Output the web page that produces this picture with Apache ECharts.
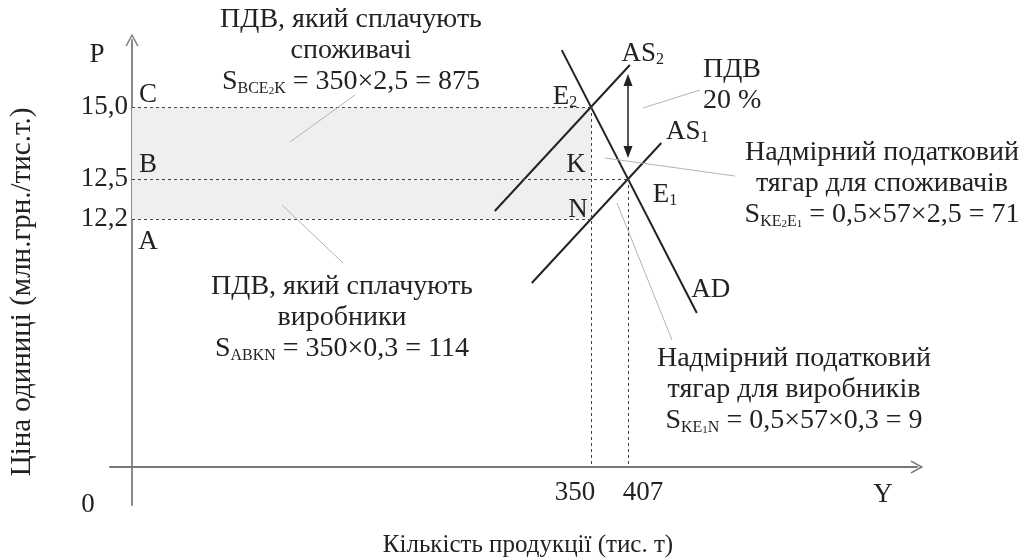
<!DOCTYPE html>
<html>
<head>
<meta charset="utf-8">
<script src="https://cdn.jsdelivr.net/npm/echarts@6/dist/echarts.min.js"></script>
<style>
  html, body { margin: 0; background: #fff; }
  #chart { width: 1030px; height: 560px; }
</style>
</head>
<body>
<div id="chart"></div>
<script>
// ціна одиниці (млн.грн./тис.т.)
var priceLabels = ['12,2', '12,5', '15,0'];
var priceValues = [12.2, 12.5, 15.0];

// кількість продукції (тис. т)
var qtyLabels = ['350', '407'];
var qtyValues = [350, 407];

// точки рівноваги та кути площ
var pointNames = ['C', 'B', 'A', 'E2', 'K', 'N', 'E1'];
var pointQty = [0, 0, 0, 350, 350, 350, 407];
var pointPrice = [15.0, 12.5, 12.2, 15.0, 12.5, 12.2, 12.5];

// схема не в масштабі: значення -> умовні одиниці осі
var qtyScale = [[0, 0], [350, 459], [407, 496]];
var priceScale = [[0, 0], [12.2, 248], [12.5, 288], [15.0, 360]];

function piece(scale, v) {
    for (var i = 1; i < scale.length; i++) {
        if (v <= scale[i][0] || i == scale.length - 1) {
            var a = scale[i - 1], b = scale[i];
            return a[1] + (v - a[0]) * (b[1] - a[1]) / (b[0] - a[0]);
        }
    }
}
function pt(q, p) { return [piece(qtyScale, q), piece(priceScale, p)]; }

var serif = 'Liberation Serif';
var ink = '#222';

var E2 = pt(350, 15.0), E1 = pt(407, 12.5), N = pt(350, 12.2);
var K = pt(350, 12.5), C = pt(0, 15.0), B = pt(0, 12.5), A = pt(0, 12.2);

// пряма через p0 у напрямку d
function seg(p0, d, t0, t1) {
    return [[p0[0] + d[0] * t0, p0[1] + d[1] * t0], [p0[0] + d[0] * t1, p0[1] + d[1] * t1]];
}
var dAD = [E1[0] - E2[0], E1[1] - E2[1]];
var dAS = [E1[0] - N[0], E1[1] - N[1]];
var lineAD = seg(E2, dAD, -0.79, 2.86);
var lineAS1 = seg(N, dAS, -1.6, 1.9);
var lineAS2 = seg(E2, dAS, -2.6, 1.05);

var yTicks = priceValues.map(function (p) { return piece(priceScale, p); });
var xTicks = qtyValues.map(function (q) { return piece(qtyScale, q); });

var labelStyle = {
    fontFamily: serif, fontSize: 27, color: ink, textBorderWidth: 0,
    rich: {
        m: { fontFamily: serif, fontSize: 27, color: ink, textBorderWidth: 0 },
        s: { fontFamily: serif, fontSize: 16, color: ink, textBorderWidth: 0, verticalAlign: 'bottom', padding: [12, 0, 0, 0] }
    }
};
var sub = { E2: '{m|E}{s|2}', E1: '{m|E}{s|1}' };
var offs = {
    C: [16, -12], B: [16, -14], A: [16, 23], E2: [-26, -10],
    K: [-15, -14], N: [-13, -9], E1: [37, 16]
};
var pointData = pointNames.map(function (n, i) {
    return {
        value: pt(pointQty[i], pointPrice[i]),
        label: { formatter: sub[n] || ('{m|' + n + '}'), offset: offs[n] }
    };
});
pointData.push({ value: lineAS2[1], label: { formatter: '{m|AS}{s|2}', offset: [13, -11] } });
pointData.push({ value: lineAS1[1], label: { formatter: '{m|AS}{s|1}', offset: [26, -11] } });
pointData.push({ value: lineAD[1], label: { formatter: '{m|AD}', offset: [14, -23] } });

var curveStyle = { color: ink, width: 2 };
var arrowPath = 'path://M0,11 L6,0 L12,11 L10.8,11.8 L6,3 L1.2,11.8 Z';

var myChart = echarts.init(document.getElementById('chart'));

var tf = { fontFamily: serif, fontSize: 27, fill: ink };
var rt = {
    t: { fontFamily: serif, fontSize: 28, fill: ink, lineHeight: 31 },
    s: { fontFamily: serif, fontSize: 16, fill: ink, lineHeight: 31, verticalAlign: 'bottom', padding: [12, 0, 0, 0] },
    ss: { fontFamily: serif, fontSize: 11, fill: ink, lineHeight: 31, verticalAlign: 'bottom', padding: [12, 0, 0, 0] }
};

function block(x, y, text, align) {
    return {
        type: 'text', x: x, y: y, silent: true, z: 20,
        style: { text: text, textAlign: align || 'center', textVerticalAlign: 'top', rich: rt, fill: ink, font: '28px ' + serif }
    };
}
function leader(x1, y1, x2, y2) {
    return { type: 'line', silent: true, z: 20, shape: { x1: x1, y1: y1, x2: x2, y2: y2 }, style: { stroke: '#b3b3b3', lineWidth: 1 } };
}

var option = {
    animation: false,
    grid: { left: 110, right: 113, top: 40, bottom: 55, outerBoundsMode: 'none' },
    xAxis: {
        type: 'value', min: -22, max: 785, offset: -38,
        splitLine: { show: false },
        axisTick: { show: false },
        axisLine: {
            onZero: false, symbol: ['none', arrowPath], symbolSize: [13, 15],
            lineStyle: { color: '#777', width: 2 }
        },
        axisLabel: {
            customValues: [0].concat(xTicks), margin: 12,
            formatter: function (v) {
                if (v == 0) return '{o|0}';
                var i = xTicks.indexOf(v);
                return i == 0 ? '{l|' + qtyLabels[i] + '}' : '{r|' + qtyLabels[i] + '}';
            },
            rich: {
                o: { fontFamily: serif, fontSize: 27, color: ink, padding: [12, 88, 0, 0] },
                l: { fontFamily: serif, fontSize: 27, color: ink, padding: [0, 32, 0, 0] },
                r: { fontFamily: serif, fontSize: 27, color: ink, padding: [0, 0, 0, 30] }
            }
        }
    },
    yAxis: {
        type: 'value', min: -38, max: 427, offset: -22,
        splitLine: { show: false },
        axisTick: { show: false },
        axisLine: {
            onZero: false, symbol: ['none', arrowPath], symbolSize: [13, 15],
            lineStyle: { color: '#8a8a8a', width: 2 }
        },
        axisLabel: {
            customValues: yTicks, margin: 4,
            fontFamily: serif, fontSize: 27, color: ink,
            formatter: function (v) { return priceLabels[yTicks.indexOf(v)]; }
        }
    },
    series: [
        {
            name: 'AS2', type: 'line', data: lineAS2, showSymbol: false, lineStyle: curveStyle, z: 3,
            markArea: {
                silent: true, itemStyle: { color: '#efefef' },
                data: [[{ coord: C }, { coord: [N[0], N[1]] }]]
            }
        },
        {
            name: 'AS1', type: 'line', data: lineAS1, showSymbol: false, lineStyle: curveStyle, z: 3,
            markLine: {
                silent: true, symbol: ['none', 'none'], label: { show: false },
                lineStyle: { color: '#444', width: 1, type: [3, 3] },
                data: [
                    [{ coord: C }, { coord: E2 }],
                    [{ coord: B }, { coord: E1 }],
                    [{ coord: A }, { coord: N }],
                    [{ coord: E2 }, { coord: [E2[0], 0] }],
                    [{ coord: E1 }, { coord: [E1[0], 0] }]
                ]
            }
        },
        {
            name: 'AD', type: 'line', data: lineAD, showSymbol: false, lineStyle: curveStyle, z: 3,
            markLine: {
                silent: true, symbol: ['triangle', 'triangle'], symbolSize: [9, 12], label: { show: false },
                lineStyle: { color: ink, width: 1.5, type: 'solid' },
                data: [[{ coord: [E1[0], C[1] + 27] }, { coord: [E1[0], B[1] + 27] }]]
            }
        },
        {
            name: 'points', type: 'scatter', data: pointData, symbolSize: 0, z: 4, silent: true,
            itemStyle: { color: ink, opacity: 1 },
            label: Object.assign({ show: true, position: 'inside' }, labelStyle)
        }
    ],
    graphic: [
        { type: 'text', x: 97, y: 55, style: Object.assign({ text: 'P', textAlign: 'center', textVerticalAlign: 'middle' }, tf) },
        { type: 'text', x: 883, y: 495, style: Object.assign({ text: 'Y', textAlign: 'center', textVerticalAlign: 'middle' }, tf) },
        {
            type: 'text', x: 528, y: 545,
            style: { text: 'Кількість продукції (тис. т)', textAlign: 'center', textVerticalAlign: 'middle', font: '25px ' + serif, fill: ink }
        },
        {
            type: 'text', x: 22, y: 292, rotation: Math.PI / 2,
            style: { text: 'Ціна одиниці (млн.грн./тис.т.)', textAlign: 'center', textVerticalAlign: 'middle', font: '29px ' + serif, fill: ink }
        },
        block(351, 4, '{t|ПДВ, який сплачують}\n{t|споживачі}\n{t|S}{s|BCE}{ss|2}{s|K}{t| = 350×2,5 = 875}'),
        block(342, 271, '{t|ПДВ, який сплачують}\n{t|виробники}\n{t|S}{s|ABKN}{t| = 350×0,3 = 114}'),
        block(703, 54, '{t|ПДВ}\n{t|20 %}', 'left'),
        block(882, 137, '{t|Надмірний податковий}\n{t|тягар для споживачів}\n{t|S}{s|KE}{ss|2}{s|E}{ss|1}{t| = 0,5×57×2,5 = 71}'),
        block(794, 343, '{t|Надмірний податковий}\n{t|тягар для виробників}\n{t|S}{s|KE}{ss|1}{s|N}{t| = 0,5×57×0,3 = 9}'),
        leader(355, 95, 290, 142),
        leader(282, 205, 343, 263),
        leader(643, 108, 700, 90),
        leader(605, 158, 735, 176),
        leader(617, 203, 672, 340)
    ]
};

myChart.setOption(option);
</script>
</body>
</html>
